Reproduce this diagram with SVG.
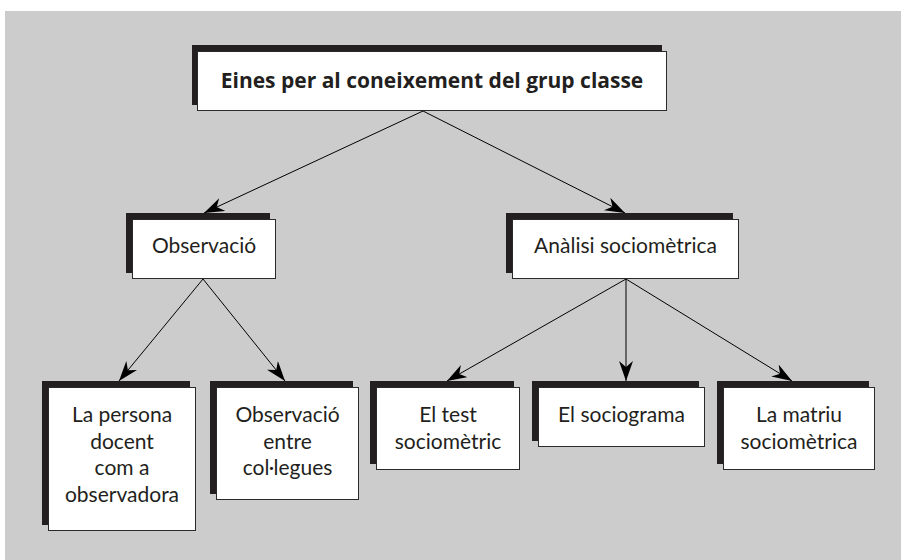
<svg xmlns="http://www.w3.org/2000/svg" width="901" height="560" viewBox="0 0 901 560">
<style>
.sh{fill:#231f20}
.bx{fill:#ffffff;stroke:#2a2a2a;stroke-width:1}
.t{font-family:Lato,"Open Sans","Liberation Sans",sans-serif;font-size:21px;fill:#231f20;text-anchor:middle}
.tb{font-family:"Open Sans",Lato,"Liberation Sans",sans-serif;font-size:21px;font-weight:bold;fill:#231f20;text-anchor:middle}
.c{stroke:#000;stroke-width:1;fill:none;marker-end:url(#ah)}
</style>
<defs>
<marker id="ah" markerUnits="userSpaceOnUse" markerWidth="22" markerHeight="16" refX="20" refY="7" orient="auto">
<path d="M0,0 L20,7 L0,14 L6,7 Z" fill="#000"/>
</marker>
</defs>
<rect x="5" y="11" width="896" height="549" fill="#cccccc"/>
<g id="connectors">
<line class="c" x1="423" y1="111" x2="204" y2="213"/>
<line class="c" x1="423" y1="111" x2="625" y2="213"/>
<line class="c" x1="203" y1="279" x2="119" y2="381"/>
<line class="c" x1="203" y1="279" x2="285" y2="381"/>
<line class="c" x1="626" y1="279" x2="447" y2="381"/>
<line class="c" x1="626" y1="279" x2="626" y2="381"/>
<line class="c" x1="626" y1="279" x2="792" y2="381"/>
</g>
<g id="n_top">
<rect class="sh" x="192" y="45" width="470" height="60"/>
<rect class="bx" x="197.5" y="51.5" width="469" height="59"/>
<text class="tb" x="432" y="88">Eines per al coneixement del grup classe</text>
</g>
<g id="n_obs">
<rect class="sh" x="126" y="213" width="144" height="60"/>
<rect class="bx" x="132.5" y="219.5" width="143" height="59"/>
<text class="t" x="204" y="253">Observació</text>
</g>
<g id="n_anal">
<rect class="sh" x="506" y="213" width="227" height="60"/>
<rect class="bx" x="512.5" y="219.5" width="226" height="59"/>
<text class="t" x="625.5" y="253">Anàlisi sociomètrica</text>
</g>
<g id="n_persona">
<rect class="sh" x="42" y="381" width="148" height="144"/>
<rect class="bx" x="48.5" y="387.5" width="147" height="143"/>
<text class="t" x="122" y="422">La persona</text>
<text class="t" x="122" y="448.5">docent</text>
<text class="t" x="122" y="475">com a</text>
<text class="t" x="122" y="501.5">observadora</text>
</g>
<g id="n_colleg">
<rect class="sh" x="210" y="381" width="143" height="113"/>
<rect class="bx" x="216.5" y="387.5" width="142" height="112"/>
<text class="t" x="287.5" y="422">Observació</text>
<text class="t" x="287.5" y="448.5">entre</text>
<text class="t" x="287.5" y="475">col·legues</text>
</g>
<g id="n_test">
<rect class="sh" x="370" y="381" width="144" height="83"/>
<rect class="bx" x="376.5" y="387.5" width="143" height="82"/>
<text class="t" x="448" y="422">El test</text>
<text class="t" x="448" y="448.5">sociomètric</text>
</g>
<g id="n_socio">
<rect class="sh" x="532" y="381" width="167" height="60"/>
<rect class="bx" x="538.5" y="387.5" width="166" height="59"/>
<text class="t" x="621.5" y="422">El sociograma</text>
</g>
<g id="n_matriu">
<rect class="sh" x="717" y="381" width="152" height="83"/>
<rect class="bx" x="723.5" y="387.5" width="151" height="82"/>
<text class="t" x="799" y="422">La matriu</text>
<text class="t" x="799" y="448.5">sociomètrica</text>
</g>
</svg>
